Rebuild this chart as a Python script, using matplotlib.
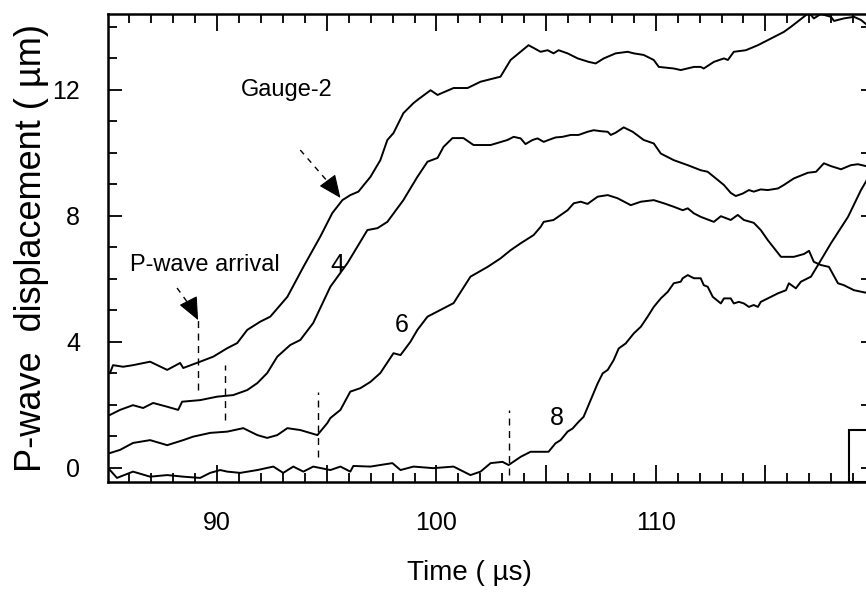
import matplotlib
matplotlib.use('Agg')
import matplotlib.pyplot as plt
from matplotlib.ticker import FixedLocator, FixedFormatter, MultipleLocator
from matplotlib.patches import Rectangle

plt.rcParams['font.family'] = ['Liberation Sans', 'DejaVu Sans']

# time (us) / displacement (um)
g2_t = [85.11, 85.25, 85.71, 86.16, 86.94, 87.72, 88.31, 88.45, 89.22, 89.82,
        90.46, 90.91, 91.37, 91.96, 92.42, 93.20, 93.93, 94.70, 95.25, 95.71,
        96.07, 96.44, 96.99, 97.44, 97.76, 98.04, 98.49, 98.95, 99.13, 99.73,
        100.05, 100.78, 101.42, 102.01, 102.92, 103.38, 104.20, 104.75, 105.07, 105.34,
        105.57, 105.98, 106.44, 106.94, 107.26, 107.63, 108.17, 108.72, 109.00, 109.45,
        109.91, 110.14, 110.82, 111.14, 111.74, 112.05, 112.19, 112.65, 113.11, 113.29,
        113.56, 114.11, 114.66, 115.11, 115.84, 116.16, 116.99, 117.21, 117.53, 117.99,
        118.13, 118.58, 119.04, 119.36, 119.59]
g2_d = [3.00, 3.25, 3.20, 3.25, 3.36, 3.10, 3.32, 3.16, 3.36, 3.52,
        3.79, 3.95, 4.37, 4.63, 4.79, 5.42, 6.37, 7.33, 8.08, 8.49,
        8.65, 8.76, 9.23, 9.76, 10.40, 10.62, 11.25, 11.57, 11.67, 11.98,
        11.83, 12.05, 12.05, 12.25, 12.41, 12.94, 13.41, 13.20, 13.25, 13.15,
        13.25, 13.15, 12.99, 12.88, 12.83, 12.99, 13.15, 13.20, 13.15, 13.10,
        12.94, 12.72, 12.67, 12.62, 12.72, 12.72, 12.67, 12.88, 12.99, 12.94,
        13.20, 13.25, 13.41, 13.57, 13.83, 13.99, 14.44, 14.26, 14.40, 14.31,
        14.18, 14.26, 14.31, 14.21, 14.08]

g4_t = [85.11, 85.57, 86.16, 86.62, 87.08, 87.72, 88.22, 88.40, 89.22, 90.00,
        90.73, 91.37, 91.83, 92.28, 92.74, 93.33, 93.79, 94.38, 95.16, 95.94,
        96.85, 97.31, 97.76, 98.49, 99.13, 99.59, 100.05, 100.32, 100.73, 101.23,
        101.69, 102.47, 103.24, 103.52, 103.84, 104.06, 104.38, 104.61, 104.89, 105.11,
        105.43, 105.75, 106.12, 106.48, 106.89, 107.17, 107.49, 107.81, 107.95, 108.17,
        108.54, 108.95, 109.45, 109.91, 110.23, 110.82, 111.46, 112.05, 112.37, 112.83,
        113.11, 113.42, 113.65, 113.97, 114.25, 114.47, 114.79, 115.11, 115.57, 115.84,
        116.30, 116.94, 117.31, 117.67, 117.99, 118.45, 118.90, 119.22, 119.59]
g4_d = [1.67, 1.83, 1.98, 1.89, 2.05, 1.93, 1.83, 2.09, 2.14, 2.25,
        2.30, 2.46, 2.68, 3.00, 3.52, 3.89, 4.05, 4.59, 5.74, 6.49,
        7.54, 7.60, 7.80, 8.49, 9.23, 9.71, 9.83, 10.18, 10.46, 10.46,
        10.24, 10.24, 10.40, 10.50, 10.45, 10.27, 10.40, 10.45, 10.34, 10.40,
        10.48, 10.50, 10.56, 10.56, 10.66, 10.71, 10.68, 10.66, 10.56, 10.63,
        10.80, 10.66, 10.40, 10.29, 9.97, 9.76, 9.60, 9.44, 9.39, 9.13,
        8.97, 8.72, 8.62, 8.70, 8.81, 8.76, 8.83, 8.81, 8.86, 8.97,
        9.18, 9.36, 9.39, 9.66, 9.57, 9.47, 9.60, 9.63, 9.57]

g6_t = [85.11, 85.57, 86.16, 86.94, 87.72, 88.45, 88.90, 89.68, 90.46, 91.19,
        91.83, 92.28, 92.74, 93.20, 93.79, 94.57, 95.02, 95.16, 95.62, 96.07,
        96.53, 96.99, 97.44, 98.04, 98.36, 98.81, 99.13, 99.59, 100.78, 101.55,
        102.33, 102.92, 103.38, 103.84, 104.43, 104.75, 104.89, 105.34, 105.98, 106.26,
        106.58, 106.89, 107.35, 107.81, 108.26, 108.86, 109.32, 109.91, 110.37, 110.82,
        111.23, 111.46, 111.74, 112.05, 112.65, 112.97, 113.42, 113.74, 114.02, 114.47,
        114.79, 115.11, 115.71, 116.30, 116.76, 116.99, 117.21, 117.53, 117.90, 118.31,
        118.58, 119.04, 119.59]
g6_d = [0.46, 0.56, 0.78, 0.87, 0.71, 0.87, 0.98, 1.10, 1.14, 1.25,
        1.03, 0.94, 1.03, 1.25, 1.19, 1.03, 1.41, 1.57, 1.83, 2.41,
        2.52, 2.72, 3.00, 3.63, 3.57, 3.99, 4.37, 4.79, 5.22, 6.06,
        6.37, 6.64, 6.90, 7.12, 7.38, 7.64, 7.80, 7.86, 8.17, 8.39,
        8.44, 8.37, 8.60, 8.65, 8.55, 8.33, 8.44, 8.49, 8.39, 8.28,
        8.17, 8.23, 8.07, 7.96, 7.80, 7.98, 7.86, 8.02, 7.86, 7.77,
        7.54, 7.22, 6.69, 6.69, 6.78, 6.88, 6.53, 6.43, 6.37, 5.85,
        5.79, 5.63, 5.55]

g8_t = [85.11, 85.43, 86.16, 86.94, 87.72, 88.45, 89.22, 89.68, 90.14, 90.46,
        91.05, 91.83, 92.56, 93.01, 93.47, 93.93, 94.38, 95.16, 95.62, 96.07,
        96.21, 96.99, 97.44, 97.99, 98.36, 98.95, 99.86, 100.78, 101.55, 102.01,
        102.47, 103.01, 103.29, 103.84, 104.29, 105.11, 105.43, 105.66, 105.98, 106.21,
        106.48, 106.71, 107.03, 107.35, 107.58, 107.81, 108.08, 108.31, 108.63, 109.00,
        109.32, 109.63, 109.91, 110.23, 110.55, 110.82, 111.14, 111.23, 111.46, 111.74,
        112.05, 112.19, 112.37, 112.60, 112.97, 113.11, 113.42, 113.56, 113.79, 114.02,
        114.25, 114.47, 114.66, 114.79, 115.11, 115.57, 115.94, 116.07, 116.39, 116.62,
        117.08, 117.40, 117.99, 118.77, 119.36, 119.63]
g8_d = [-0.08, -0.33, -0.13, -0.29, -0.24, -0.29, -0.33, -0.17, -0.08, -0.13,
        -0.17, -0.08, 0.03, -0.17, 0.03, -0.13, 0.03, -0.08, 0.03, -0.13,
        0.05, 0.03, 0.08, 0.14, -0.08, 0.03, -0.02, 0.03, -0.24, -0.13,
        0.14, 0.18, 0.08, 0.34, 0.50, 0.50, 0.77, 0.87, 1.14, 1.24,
        1.45, 1.61, 2.14, 2.67, 2.99, 3.10, 3.41, 3.78, 3.94, 4.26,
        4.47, 4.79, 5.10, 5.37, 5.58, 5.85, 5.90, 6.01, 6.11, 6.01,
        6.01, 5.79, 5.74, 5.42, 5.21, 5.37, 5.37, 5.21, 5.26, 5.21,
        5.10, 5.16, 5.10, 5.26, 5.37, 5.53, 5.63, 5.85, 5.69, 5.90,
        6.06, 6.43, 7.12, 7.96, 8.81, 9.13]

# P-wave arrival markers (time, top, bottom)
arr_t = [89.13, 90.37, 94.61, 103.30]
arr_top = [4.68, 3.25, 2.41, 1.83]
arr_bot = [2.46, 1.50, 0.34, -0.24]

curve_labels = ['4', '6', '8']
label_t = [95.48, 98.43, 105.51]
label_d = [6.43, 4.52, 1.56]

fig = plt.figure(figsize=(8.66, 5.93), dpi=100)
ax = fig.add_axes([108 / 866, 1 - 481.7 / 593, (868 - 108) / 866, (481.7 - 14) / 593])

for t, d in [(g2_t, g2_d), (g4_t, g4_d), (g6_t, g6_d), (g8_t, g8_d)]:
    ax.plot(t, d, color='black', lw=1.4)

for t, top, bot in zip(arr_t, arr_top, arr_bot):
    ax.plot([t, t], [bot, top], color='black', lw=1.0, ls=(0, (5, 4)))

# dashed arrows with solid heads
ax.plot([88.17, 88.95], [5.70, 4.95], color='black', lw=1.0, ls=(0, (4, 4)))
ax.annotate('', xy=(89.13, 4.68), xytext=(88.75, 5.20),
            arrowprops=dict(arrowstyle='-|>,head_length=0.8,head_width=0.35',
                            color='black', lw=0.8, mutation_scale=18, shrinkA=0, shrinkB=0))
ax.plot([93.79, 95.20], [10.08, 8.95], color='black', lw=1.0, ls=(0, (4, 4)))
ax.annotate('', xy=(95.62, 8.56), xytext=(95.10, 9.05),
            arrowprops=dict(arrowstyle='-|>,head_length=0.8,head_width=0.35',
                            color='black', lw=0.8, mutation_scale=18, shrinkA=0, shrinkB=0))

ax.text(93.15, 11.98, 'Gauge-2', fontsize=17, ha='center', va='center')
ax.text(89.45, 6.43, 'P-wave arrival', fontsize=17, ha='center', va='center')
for s, t, d in zip(curve_labels, label_t, label_d):
    ax.text(t, d, s, fontsize=18, ha='center', va='center')

ax.add_patch(Rectangle((118.81, -0.45), 2.0, 1.64, fill=False, ec='black', lw=1.5, clip_on=True))

ax.set_xlim(85.02, 119.68)
ax.set_ylim(-0.45, 14.4)

ax.xaxis.set_major_locator(FixedLocator([90, 95, 100, 105, 110, 115]))
ax.xaxis.set_major_formatter(FixedFormatter(['90', '', '100', '', '110', '']))
ax.xaxis.set_minor_locator(MultipleLocator(1))
ax.yaxis.set_major_locator(FixedLocator([0, 4, 8, 12]))
ax.yaxis.set_minor_locator(MultipleLocator(1))

ax.tick_params(axis='x', which='both', direction='in', top=True, bottom=True, width=1.3)
ax.tick_params(axis='x', which='major', length=12, pad=21, labelsize=18)
ax.tick_params(axis='x', which='minor', length=6.5)
ax.tick_params(axis='y', which='both', direction='in', left=True, right=False, width=1.3)
ax.tick_params(axis='y', which='major', length=10, pad=20, labelsize=18)
ax.tick_params(axis='y', which='minor', length=6.5)

sec = ax.secondary_yaxis('right')
sec.set_yticks([0, 2, 4, 6, 8, 10, 12, 14])
sec.tick_params(direction='in', length=5, width=1.3, labelright=False)

for sp in ax.spines.values():
    sp.set_linewidth(1.8)

ax.set_xlabel('Time ( \u00b5s)', fontsize=20)
ax.xaxis.set_label_coords(0.475, -0.168)
ax.set_ylabel('P-wave  displacement ( \u00b5m)', fontsize=26)
ax.yaxis.set_label_coords(-0.078, 0.50)

fig.savefig('out.png', dpi=100)
